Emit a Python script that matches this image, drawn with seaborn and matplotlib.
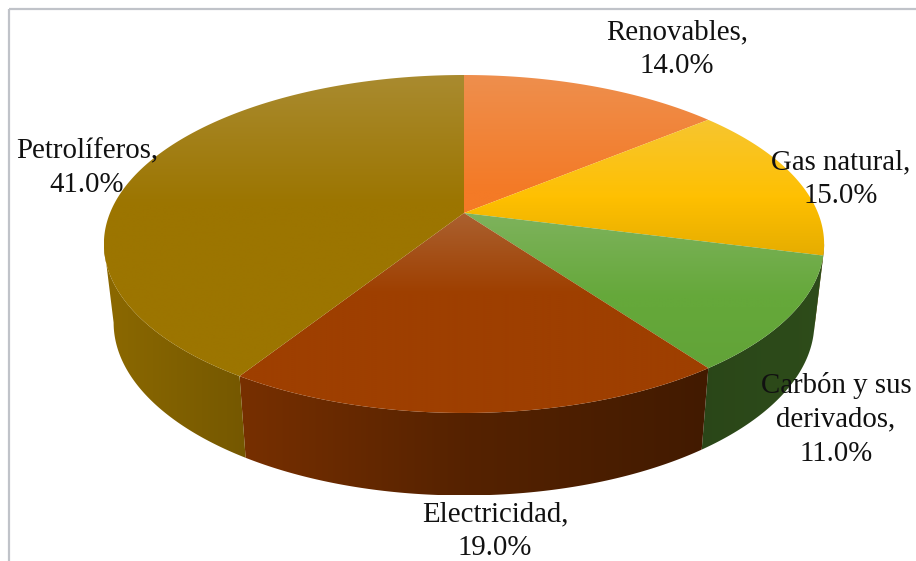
import numpy as np
import matplotlib
matplotlib.use("Agg")
import matplotlib.pyplot as plt
from matplotlib.patches import Polygon, Rectangle
import seaborn as sns

# Final energy consumption shares, clockwise from twelve o'clock
categories = ["Renovables", "Gas natural", "Carbón y sus\nderivados", "Electricidad", "Petrolíferos"]
shares = [14.0, 15.0, 11.0, 19.0, 41.0]
base_hex = ["#F47A26", "#FFC000", "#65A83A", "#9E3F00", "#9C7500"]
label_centres = [(677, 49), (841, 179), (836, 419), (495, 531), (87, 168)]

sns.set_theme(style="white")
plt.rcParams["font.family"] = ["Liberation Serif", "DejaVu Serif"]
palette = sns.color_palette(base_hex)

# Perspective model of the disc
CX, CY = 464.0, 213.0
RX, RY, K = 354.0, 163.3, 0.1834
SILHOUETTE = np.degrees(np.arccos(-K))


def top_point(theta_deg):
    t = np.radians(theta_deg)
    w = 1 + K * np.cos(t)
    return CX + RX * np.sin(t) / w, CY - RY * np.cos(t) / w


def bottom_point(theta_deg):
    x, y = top_point(theta_deg)
    return CX + 0.973 * (x - CX), 1.023 * y + 73


def shaded_patch(ax, poly, rgb_image, extent):
    im = ax.imshow(rgb_image, extent=extent, aspect="auto", interpolation="bilinear", zorder=2)
    patch = Polygon(poly, closed=True, transform=ax.transData, facecolor="none", edgecolor="none")
    ax.add_patch(patch)
    im.set_clip_path(patch)


def side_shade(x):
    return np.interp(x, [115, 245, 464, 702, 815], [0.885, 0.75, 0.54, 0.42, 0.45])


fig = plt.figure(figsize=(9.16, 5.61), dpi=100)
ax = fig.add_axes([0, 0, 1, 1])

edges = 360.0 * np.cumsum([0] + shares) / sum(shares)

# Outer wall: only the part of the rim that faces the viewer
for i in range(len(shares)):
    a0 = max(edges[i], SILHOUETTE)
    a1 = min(edges[i + 1], 360 - SILHOUETTE)
    if a1 <= a0:
        continue
    th = np.linspace(a0, a1, 200)
    tx, ty = top_point(th)
    bx, by = bottom_point(th)
    poly = np.r_[np.c_[tx, ty], np.c_[bx, by][::-1]]
    x0, x1 = poly[:, 0].min(), poly[:, 0].max()
    y0, y1 = poly[:, 1].min(), poly[:, 1].max()
    xs = np.linspace(x0, x1, 300)
    rgb = np.array(palette[i])[None, None, :] * side_shade(xs)[None, :, None]
    shaded_patch(ax, poly, np.clip(rgb, 0, 1), (x0, x1, y1, y0))

# Top face: each slice lightens towards its upper edge
fade = [115, 80, 85, 80, 130]
bottom_dark = [0.0, 0.10, 0.03, 0.0, 0.0]
for i in range(len(shares)):
    th = np.linspace(edges[i], edges[i + 1], 300)
    tx, ty = top_point(th)
    poly = np.r_[[[CX, CY]], np.c_[tx, ty]]
    x0, x1 = poly[:, 0].min(), poly[:, 0].max()
    y0, y1 = poly[:, 1].min(), poly[:, 1].max()
    ys = np.linspace(y0, y1, 300)
    light = 0.22 * np.clip(1 - (ys - y0) / fade[i], 0, 1)
    dark = bottom_dark[i] * np.clip((ys - (y1 - 60)) / 60, 0, 1)
    base = np.array(palette[i])
    col = base[None, :] * (1 - dark[:, None])
    col = col * (1 - light[:, None]) + 0.85 * light[:, None]
    shaded_patch(ax, poly, np.clip(col[:, None, :], 0, 1), (x0, x1, y1, y0))

# Chart frame, running off the right and bottom edges
ax.add_patch(Rectangle((9, 9), 1000, 1000, fill=False, edgecolor="#C0C3C9", linewidth=1.6, zorder=1))

for name, share, (lx, ly) in zip(categories, shares, label_centres):
    ax.text(lx, ly, f"{name},\n{share:.1f}%", ha="center", va="center", fontsize=20.8,
            color="#111111", linespacing=1.4, zorder=5)

ax.set_xlim(0, 916)
ax.set_ylim(561, 0)
ax.axis("off")
fig.savefig("out.png", dpi=100, facecolor="white")
